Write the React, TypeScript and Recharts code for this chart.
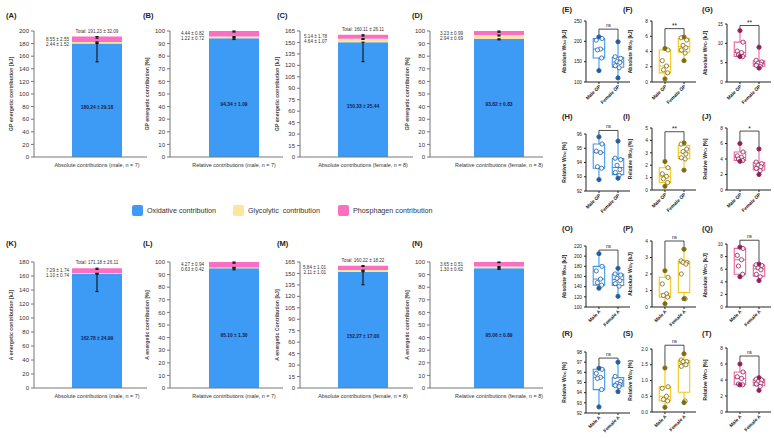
import React from "react";
import {
  Bar,
  BarChart,
  ErrorBar,
  LabelList,
  ReferenceArea,
  ReferenceLine,
  Scatter,
  ScatterChart,
  XAxis,
  YAxis,
} from "recharts";

const FONT = '"Liberation Sans", Arial, sans-serif';
const BLUE = "#3d9bf5";
const YELLOW = "#fde59c";
const PINK = "#fb6fc3";
const AXIS = "#777";

// ---------- stacked bars (A-D, K-N) ----------
const BAR_TITLES = ["(A)", "(B)", "(C)", "(D)", "(K)", "(L)", "(M)", "(N)"];
const BAR_X_LABELS = [
  "Absolute contributions (male, n = 7)",
  "Relative contributions (male, n = 7)",
  "Absolute contributions (female, n = 8)",
  "Relative contributions (female, n = 8)",
  "Absolute contributions (male, n = 7)",
  "Relative contributions (male, n = 7)",
  "Absolute contributions (female, n = 8)",
  "Relative contributions (female, n = 8)",
];
const BAR_Y_LABELS = [
  "GP energetic contribution [kJ]",
  "GP energetic contribution [%]",
  "GP energetic contribution [kJ]",
  "GP energetic contribution [%]",
  "A energetic contribution [kJ]",
  "A energetic contribution [%]",
  "A energetic Contribution [kJ]",
  "A energetic contribution [%]",
];
const TICKS_200 = [0, 20, 40, 60, 80, 100, 120, 140, 160, 180, 200];
const TICKS_180 = [0, 20, 40, 60, 80, 100, 120, 140, 160, 180];
const TICKS_165 = [0, 15, 30, 45, 60, 75, 90, 105, 120, 135, 150, 165];
const TICKS_100 = [0, 10, 20, 30, 40, 50, 60, 70, 80, 90, 100];
const BAR_Y_TICKS = [TICKS_200, TICKS_100, TICKS_165, TICKS_100, TICKS_180, TICKS_100, TICKS_165, TICKS_100];

const OXI_MEAN = [180.24, 94.34, 150.33, 93.82, 162.78, 95.1, 152.27, 95.06];
const OXI_SD = [29.18, 1.09, 25.44, 0.83, 24.99, 1.3, 17.0, 0.89];
const GLY_MEAN = [2.44, 1.22, 4.64, 2.94, 1.1, 0.63, 2.11, 1.3];
const GLY_SD = [1.52, 0.72, 1.07, 0.69, 0.74, 0.42, 1.01, 0.62];
const PHO_MEAN = [8.55, 4.44, 5.14, 3.23, 7.29, 4.27, 5.84, 3.65];
const PHO_SD = [2.55, 0.82, 1.78, 0.99, 1.74, 0.94, 1.01, 0.51];
const TOTAL_MEAN = [191.23, null, 160.11, null, 171.18, null, 160.22, null];
const TOTAL_SD = [32.09, null, 26.11, null, 26.11, null, 18.22, null];

const LEGEND_LABELS = ["Oxidative contribution", "Glycolytic  contribution", "Phosphagen contribution"];

// ---------- box plots (E-J, O-T) ----------
const BOX_TITLES = ["(E)", "(F)", "(G)", "(H)", "(I)", "(J)", "(O)", "(P)", "(Q)", "(R)", "(S)", "(T)"];
const GROUPS_GP = ["Male GP", "Female GP"];
const GROUPS_A = ["Male A", "Female A"];
const BOX_Y_PRE = ["Absolute W", "Absolute W", "Absolute W", "Relative W", "Relative W", "Relative W",
  "Absolute W", "Absolute W", "Absolute W", "Relative W", "Relative W", "Relative W"];
const BOX_Y_SUB = ["Oxi", "Gly", "PCr", "Oxi", "Gly", "PCr", "Oxi", "Gly", "PCr", "Oxi", "Gly", "PCr"];
const BOX_Y_UNIT = ["[kJ]", "[kJ]", "[kJ]", "[%]", "[%]", "[%]", "[kJ]", "[kJ]", "[kJ]", "[%]", "[%]", "[%]"];
const BOX_TICKS = [
  [100, 150, 200, 250],
  [0, 2, 4, 6, 8],
  [0, 5, 10, 15],
  [92, 93, 94, 95, 96],
  [0, 1, 2, 3, 4, 5],
  [0, 2, 4, 6, 8],
  [100, 120, 140, 160, 180, 200, 220],
  [0, 1, 2, 3, 4],
  [0, 2, 4, 6, 8, 10],
  [92, 93, 94, 95, 96, 97, 98],
  [0, 0.5, 1, 1.5, 2],
  [0, 2, 4, 6, 8],
];
const E_M = [211, 207, 203, 181, 179, 159, 128];
const E_F = [199, 162, 158, 150, 148, 140, 135, 110];
const F_M = [4.4, 4.2, 2.8, 2.1, 1.6, 1.2, 0.4];
const F_F = [5.9, 5.8, 5.5, 4.8, 4.5, 4.2, 3.8, 2.8];
const G_M = [13.3, 10.3, 8.0, 7.6, 7.0, 6.6, 6.6];
const G_F = [9.0, 5.6, 5.2, 4.9, 4.6, 4.3, 4.0, 3.6];
const H_M = [95.8, 95.3, 94.8, 94.7, 93.7, 93.6, 92.8];
const H_F = [95.5, 94.3, 94.2, 93.8, 93.5, 93.3, 93.1, 92.9];
const I_M = [2.3, 1.8, 1.3, 1.1, 0.9, 0.6, 0.3];
const I_F = [3.8, 3.7, 3.3, 3.1, 2.9, 2.6, 2.5, 1.6];
const J_M = [6.0, 4.9, 4.4, 4.2, 4.0, 3.8, 3.7];
const J_F = [5.3, 3.6, 3.4, 3.2, 3.0, 2.8, 2.5, 2.0];
const O_M = [205, 180, 171, 155, 148, 143, 137];
const O_F = [176, 165, 163, 156, 152, 146, 141, 121];
const P_M = [2.2, 1.8, 1.4, 0.8, 0.7, 0.6, 0.2];
const P_F = [3.5, 2.8, 2.7, 2.7, 2.6, 2.0, 0.5, 0.5];
const Q_M = [9.5, 9.3, 8.2, 7.5, 6.5, 5.2, 4.8];
const Q_F = [6.8, 6.7, 6.6, 6.2, 5.9, 5.2, 4.8, 4.2];
const R_M = [96.4, 96.3, 95.9, 95.5, 95.4, 94.3, 92.6];
const R_F = [97.0, 95.6, 95.1, 94.9, 94.8, 94.7, 94.6, 94.1];
const S_M = [1.4, 0.8, 0.75, 0.5, 0.4, 0.35, 0.15];
const S_F = [1.85, 1.65, 1.6, 1.6, 1.5, 1.45, 0.35, 0.3];
const T_M = [6.0, 5.0, 4.4, 4.2, 3.5, 3.4, 3.4];
const T_F = [4.3, 4.1, 4.0, 3.8, 3.6, 3.5, 3.2, 2.7];
const BOX_MALE = [E_M, F_M, G_M, H_M, I_M, J_M, O_M, P_M, Q_M, R_M, S_M, T_M];
const BOX_FEMALE = [E_F, F_F, G_F, H_F, I_F, J_F, O_F, P_F, Q_F, R_F, S_F, T_F];
const BOX_SIG = ["ns", "**", "**", "ns", "**", "*", "ns", "ns", "ns", "ns", "ns", "ns"];
const BOX_BRACKET = [230, 7.0, 14.6, 96.25, 4.7, 7.6, 212, 4.0, 10.6, 97.4, 2.12, 7.0];

// layout
const BAR_AXIS_X = [34, 170, 300, 430];
const BAR_START_X = [72, 209, 338, 474];
const BAR_TITLE_X = [6, 143, 277, 412];
const BAR_PLOT_TOP = [31, 262];
const BAR_TITLE_Y = [16, 244];
const SIDE_GAP = [3, 5, 11, 11, 3, 5, 12, 11];
const BOX_AXIS_X = [586, 652, 727];
const BOX_TITLE_X = [562, 623, 702];
const BOX_TITLE_Y = [10, 117, 229, 334];
const BOX_PLOT_TOP = [21, 21, 24, 134, 128, 128, 246, 241, 244, 352, 349, 348];
const BOX_PLOT_BOTTOM = [82, 82, 82, 191, 190, 190, 307, 307, 307, 413, 412, 412];
const BOX_COLORS = [
  { line: "#3b9af0", dark: "#1f5c9e" },
  { line: "#f3c614", dark: "#7d6a0c" },
  { line: "#f0609f", dark: "#8e1f58" },
];
// horizontal spread of scatter points (extremes sit on the whisker)
const JITTER7 = [0, 0.16, -0.14, 0.08, -0.08, 0.14, 0];
const JITTER8 = [0, -0.15, 0.14, -0.05, 0.1, -0.14, 0.06, 0];

const pm = (m: number, s: number) => `${m.toFixed(2)} ± ${s.toFixed(2)}`;

function Title({ text, x, y }: { text: string; x: number; y: number }) {
  return (
    <div style={{ position: "absolute", left: x, top: y - 5, fontSize: 7.5, fontWeight: 700, color: "#222", lineHeight: "10px" }}>
      {text}
    </div>
  );
}

function RotLabel({ p, dx, children, size = 5.2, weight = "bold", fill = "#444" }: any) {
  const vb = p.viewBox ?? p;
  const x = Number(vb.x) + dx;
  const y = Number(vb.y) + Number(vb.height) / 2;
  return (
    <text x={x} y={y} transform={`rotate(-90 ${x} ${y})`} textAnchor="middle" dominantBaseline="central"
      fontSize={size} fontWeight={weight} fill={fill} fontFamily={FONT}>
      {children}
    </text>
  );
}

function BarPanel({ i }: { i: number }) {
  const col = i % 4;
  const row = Math.floor(i / 4);
  const axisX = BAR_AXIS_X[col];
  const plotTop = BAR_PLOT_TOP[row];
  const YW = 34, PW = 113, MT = 14, PH = 126, XH = 14;
  const ticks = BAR_Y_TICKS[i];
  const pad = 2 * (BAR_START_X[col] - axisX) - 63;
  const total = TOTAL_MEAN[i];
  const sideGap = SIDE_GAP[i];
  const data = [{
    name: BAR_X_LABELS[i],
    oxi: OXI_MEAN[i], gly: GLY_MEAN[i], pho: PHO_MEAN[i],
    oxiErr: [OXI_SD[i], 0], glyErr: [GLY_SD[i], 0], phoErr: [PHO_SD[i], 0],
  }];

  const topLabels = (p: any) => {
    const vb = p.viewBox ?? p;
    const x = Number(vb.x), y = Number(vb.y), w = Number(vb.width), h = Number(vb.height);
    const cy = y + h / 2;
    return (
      <g fontFamily={FONT} fontSize={4.6} fill="#333">
        <text x={x - sideGap} y={cy} dominantBaseline="central" textAnchor="end">{pm(PHO_MEAN[i], PHO_SD[i])}</text>
        <text x={x - sideGap} y={cy + 5} dominantBaseline="central" textAnchor="end">{pm(GLY_MEAN[i], GLY_SD[i])}</text>
        {total != null && (
          <text x={x + w / 2} y={y - 5.5} dominantBaseline="central" textAnchor="middle">
            {`Total: ${pm(total, TOTAL_SD[i] as number)}`}
          </text>
        )}
      </g>
    );
  };
  const innerLabel = (p: any) => {
    const vb = p.viewBox ?? p;
    const x = Number(vb.x), y = Number(vb.y), w = Number(vb.width), h = Number(vb.height);
    return (
      <text x={x + w / 2} y={y + h / 2 + 7} dominantBaseline="central" textAnchor="middle"
        fontFamily={FONT} fontSize={4.9} fontWeight="bold" fill="#16224a">
        {pm(OXI_MEAN[i], OXI_SD[i])}
      </text>
    );
  };
  const xTick = (p: any) => (
    <text x={p.x} y={p.y} dy={4.5} textAnchor="middle" fontSize={5.4} fill="#333" fontFamily={FONT}>
      {p.payload.value}
    </text>
  );

  return (
    <div style={{ position: "absolute", left: axisX - YW, top: plotTop - MT }}>
      <BarChart width={YW + PW + 2} height={MT + PH + XH} data={data} margin={{ top: MT, right: 2, left: 0, bottom: 0 }}>
        <XAxis dataKey="name" padding={{ left: pad, right: 0 }} height={XH} tickLine={false} tickSize={3}
          axisLine={{ stroke: AXIS }} tick={xTick} interval={0} />
        <YAxis domain={[0, ticks[ticks.length - 1]]} ticks={ticks} interval={0} width={YW} tickSize={3}
          axisLine={{ stroke: AXIS }} tickLine={{ stroke: AXIS }} tick={{ fontSize: 6, fill: "#333", fontFamily: FONT }}
          label={{ content: (p: any) => <RotLabel p={p} dx={11}>{BAR_Y_LABELS[i]}</RotLabel> }} />
        <Bar dataKey="oxi" stackId="s" fill={BLUE} barSize={50} isAnimationActive={false}>
          <ErrorBar dataKey="oxiErr" direction="y" width={1.6} stroke="#111" strokeWidth={1.1} />
          <LabelList dataKey="oxi" content={innerLabel} />
        </Bar>
        <Bar dataKey="gly" stackId="s" fill={YELLOW} barSize={50} isAnimationActive={false}>
          <ErrorBar dataKey="glyErr" direction="y" width={1.6} stroke="#111" strokeWidth={1.1} />
        </Bar>
        <Bar dataKey="pho" stackId="s" fill={PINK} barSize={50} isAnimationActive={false}>
          <ErrorBar dataKey="phoErr" direction="y" width={1.6} stroke="#111" strokeWidth={1.1} />
          <LabelList dataKey="pho" content={topLabels} />
        </Bar>
      </BarChart>
    </div>
  );
}

function quant(sorted: number[], q: number) {
  const n = sorted.length;
  const pos = (n + 1) * q;
  const lo = Math.floor(pos);
  if (lo < 1) return sorted[0];
  if (lo >= n) return sorted[n - 1];
  return sorted[lo - 1] + (pos - lo) * (sorted[lo] - sorted[lo - 1]);
}

function BoxPanel({ k }: { k: number }) {
  const col = k % 3;
  const row = Math.floor(k / 3);
  const axisX = BOX_AXIS_X[col];
  const plotTop = BOX_PLOT_TOP[k];
  const PH = BOX_PLOT_BOTTOM[k] - plotTop;
  const YW = 26, PW = 44, MT = 16, XH = 30;
  const ticks = BOX_TICKS[k];
  const lo = ticks[0], hi = ticks[ticks.length - 1];
  const colors = BOX_COLORS[col];
  const names = row < 2 ? GROUPS_GP : GROUPS_A;
  const groups = [BOX_MALE[k], BOX_FEMALE[k]];
  const HW = 0.3;
  const gap = (hi - lo) * 0.035;
  const b = BOX_BRACKET[k];

  const stats = groups.map((g) => {
    const s = [...g].sort((a, c) => a - c);
    return { min: s[0], max: s[s.length - 1], q1: quant(s, 0.25), med: quant(s, 0.5), q3: quant(s, 0.75) };
  });
  const points = groups.flatMap((g, gi) =>
    g.map((v, j) => ({ x: gi + 1 + (g.length === 7 ? JITTER7 : JITTER8)[j], y: v })),
  );
  const ends = stats.flatMap((s, gi) => [{ x: gi + 1, y: s.min }, { x: gi + 1, y: s.max }]);

  const rotTick = (p: any) => {
    const { x, y, payload } = p;
    return (
      <text x={x} y={y} dx={1} dy={2} transform={`rotate(-45 ${x} ${y})`} textAnchor="end"
        fontSize={4.8} fontWeight="bold" fill="#222" fontFamily={FONT}>
        {names[payload.value - 1]}
      </text>
    );
  };
  const lineProps = { stroke: colors.line, strokeWidth: 1.1, ifOverflow: "visible" as const };
  const bracketProps = { stroke: "#222", strokeWidth: 0.8, ifOverflow: "visible" as const };

  return (
    <div style={{ position: "absolute", left: axisX - YW, top: plotTop - MT }}>
      <ScatterChart width={YW + PW + 4} height={MT + PH + XH} margin={{ top: MT, right: 4, left: 0, bottom: 0 }}>
        <XAxis type="number" dataKey="x" domain={[0.32, 2.63]} ticks={[1, 2]} allowDataOverflow height={XH}
          tickSize={2} axisLine={{ stroke: "#222" }} tickLine={{ stroke: "#222" }} tick={rotTick} interval={0} />
        <YAxis type="number" dataKey="y" domain={[lo, hi]} ticks={ticks} allowDataOverflow width={YW} interval={0}
          tickSize={2} axisLine={{ stroke: "#222" }} tickLine={{ stroke: "#222" }}
          tickFormatter={(v: number) => (k === 10 ? v.toFixed(1) : String(v))}
          tick={{ fontSize: 4.8, fill: "#222", fontFamily: FONT }}
          label={{
            content: (p: any) => (
              <RotLabel p={p} dx={3.5} size={5} fill="#222">
                {BOX_Y_PRE[k]}
                <tspan fontSize={3.6} dy={1.3}>{BOX_Y_SUB[k]}</tspan>
                <tspan dy={-1.3}>{` ${BOX_Y_UNIT[k]}`}</tspan>
              </RotLabel>
            ),
          }} />
        {stats.map((s, gi) => (
          <ReferenceArea key={`box${gi}`} x1={gi + 1 - HW} x2={gi + 1 + HW} y1={s.q1} y2={s.q3}
            fill="none" fillOpacity={0} stroke={colors.line} strokeWidth={1.1} ifOverflow="visible" />
        ))}
        {stats.map((s, gi) => (
          <ReferenceLine key={`med${gi}`} segment={[{ x: gi + 1 - HW, y: s.med }, { x: gi + 1 + HW, y: s.med }]} {...lineProps} />
        ))}
        {stats.map((s, gi) => (
          <ReferenceLine key={`wl${gi}`} segment={[{ x: gi + 1, y: s.min }, { x: gi + 1, y: s.q1 }]} {...lineProps} />
        ))}
        {stats.map((s, gi) => (
          <ReferenceLine key={`wh${gi}`} segment={[{ x: gi + 1, y: s.q3 }, { x: gi + 1, y: s.max }]} {...lineProps} />
        ))}
        <ReferenceLine segment={[{ x: 1, y: b }, { x: 2, y: b }]} {...bracketProps}
          label={{ value: BOX_SIG[k], position: "top", offset: BOX_SIG[k] === "ns" ? 2 : 0.5, fontSize: BOX_SIG[k] === "ns" ? 4.8 : 6.5, fill: "#222", fontFamily: FONT }} />
        <ReferenceLine segment={[{ x: 1, y: b }, { x: 1, y: stats[0].max + gap }]} {...bracketProps} />
        <ReferenceLine segment={[{ x: 2, y: b }, { x: 2, y: stats[1].max + gap }]} {...bracketProps} />
        <Scatter data={points} isAnimationActive={false}
          shape={(p: any) => <circle cx={p.cx} cy={p.cy} r={2.1} fill="#fff" fillOpacity={0.85} stroke={colors.dark} strokeWidth={0.8} />} />
        <Scatter data={ends} isAnimationActive={false}
          shape={(p: any) => <circle cx={p.cx} cy={p.cy} r={1.9} fill={colors.dark} stroke={colors.dark} strokeWidth={0.5} />} />
      </ScatterChart>
    </div>
  );
}

export default function App() {
  const legendColors = [BLUE, YELLOW, PINK];
  const legendX = [132, 233, 338];
  return (
    <div style={{ position: "absolute", left: 0, top: 0, width: 774, height: 438, background: "#fff", fontFamily: FONT, overflow: "hidden" }}>
      {BAR_TITLES.map((t, i) => (
        <Title key={t} text={t} x={BAR_TITLE_X[i % 4]} y={BAR_TITLE_Y[Math.floor(i / 4)]} />
      ))}
      {BAR_TITLES.map((t, i) => (
        <BarPanel key={`bar${t}`} i={i} />
      ))}
      {BOX_TITLES.map((t, k) => (
        <Title key={t} text={t} x={BOX_TITLE_X[k % 3]} y={BOX_TITLE_Y[Math.floor(k / 3)]} />
      ))}
      {BOX_TITLES.map((t, k) => (
        <BoxPanel key={`box${t}`} k={k} />
      ))}
      {LEGEND_LABELS.map((l, j) => (
        <div key={l} style={{ position: "absolute", left: legendX[j], top: 205, display: "flex", alignItems: "center", gap: 4 }}>
          <div style={{ width: 11, height: 11, borderRadius: 2, background: legendColors[j] }} />
          <span style={{ fontSize: 7.2, color: "#333", whiteSpace: "pre" }}>{l}</span>
        </div>
      ))}
    </div>
  );
}
